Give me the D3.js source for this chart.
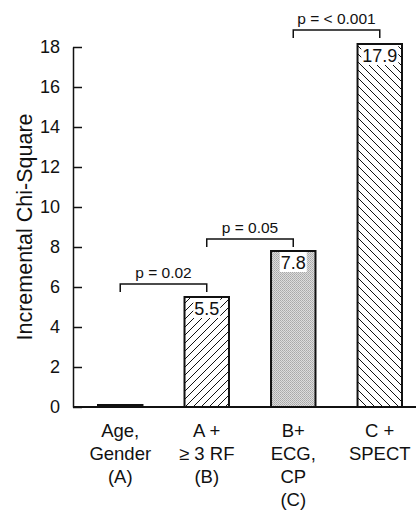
<!DOCTYPE html>
<html>
<head>
<meta charset="utf-8">
<script src="https://cdn.jsdelivr.net/npm/d3@7"></script>
<style>
body { margin: 0; background: #fff; }
text { font-family: "Liberation Sans", Arial, Helvetica, sans-serif; fill: #111; }
</style>
</head>
<body>
<div id="chart"></div>
<script>
// Bars, left to right
var categories = ["A", "B", "C", "D"];
var catLines = [
    ["Age,", "Gender", "(A)"],
    ["A +", "\u2265 3 RF", "(B)"],
    ["B+", "ECG,", "CP", "(C)"],
    ["C +", "SPECT"]
];
var valueLabels = ["", "5.5", "7.8", "17.9"];
var barHeights = [0.1, 5.5, 7.8, 18.15];   // as drawn in the figure
var fills = ["solid", "hatchUp", "stipple", "hatchDown"];

var yTicks = [0, 2, 4, 6, 8, 10, 12, 14, 16, 18];

// p-value brackets: from bar, to bar, level (chi-square units)
var pFrom = ["A", "B", "C"];
var pTo = ["B", "C", "D"];
var pLevel = [6.15, 8.4, 18.85];
var pText = ["p = 0.02", "p = 0.05", "p = < 0.001"];

var width = 416, height = 511;

var svg = d3.select("#chart").append("svg").
    attr("width", width).
    attr("height", height);

var defs = svg.append("defs");
var up = defs.append("pattern").
    attr("id", "hatchUp").
    attr("patternUnits", "userSpaceOnUse").
    attr("width", 8).attr("height", 8);
up.append("path").
    attr("d", "M-2,2 l4,-4 M0,8 l8,-8 M6,10 l4,-4").
    attr("stroke", "#111").attr("stroke-width", 1);
var down = defs.append("pattern").
    attr("id", "hatchDown").
    attr("patternUnits", "userSpaceOnUse").
    attr("width", 8).attr("height", 8);
down.append("path").
    attr("d", "M-2,6 l4,4 M0,0 l8,8 M6,-2 l4,4").
    attr("stroke", "#111").attr("stroke-width", 1);
var stip = defs.append("pattern").
    attr("id", "stipple").
    attr("patternUnits", "userSpaceOnUse").
    attr("width", 2).attr("height", 2);
stip.append("rect").attr("width", 2).attr("height", 2).attr("fill", "#dcdcdc");
stip.append("rect").attr("width", 1).attr("height", 1).attr("fill", "#a8a8a8");
stip.append("rect").attr("x", 1).attr("y", 1).attr("width", 1).attr("height", 1).attr("fill", "#b4b4b4");

var x = d3.scaleBand().
    domain(categories).
    range([73, 427]).
    paddingInner(0.486).
    paddingOuter(0.289);
var y = d3.scaleLinear().
    domain([0, 18]).
    range([407, 47]);

// y axis, ticks point inward
var yAxis = svg.append("g").
    attr("transform", "translate(73,0)").
    call(d3.axisLeft(y).tickValues(yTicks).tickSizeInner(-9).tickSizeOuter(0).tickPadding(13));
yAxis.select(".domain").attr("stroke", "#111").attr("stroke-width", 1.5);
yAxis.selectAll(".tick line").attr("stroke", "#111").attr("stroke-width", 1.5);
yAxis.selectAll(".tick text").
    attr("font-family", "Liberation Sans, Arial, sans-serif").
    attr("font-size", 18).
    attr("fill", "#111");

svg.append("text").
    attr("transform", "translate(32," + y(9.0) + ") rotate(-90)").
    attr("text-anchor", "middle").
    attr("font-size", 21.5).
    text("Incremental Chi-Square");

// bars
var bars = svg.append("g").selectAll("g").
    data(categories).
    enter().append("g");
bars.append("rect").
    attr("x", function(d) { return x(d); }).
    attr("width", x.bandwidth()).
    attr("y", function(d, i) { return y(barHeights[i]); }).
    attr("height", function(d, i) { return y(0) - y(barHeights[i]); }).
    attr("fill", function(d, i) {
        return fills[i] == "solid" ? "#111" : "url(#" + fills[i] + ")";
    }).
    attr("stroke", "#111").
    attr("stroke-width", 2);

// value labels in white boxes at bar tops
bars.each(function(d, i) {
    if (!valueLabels[i]) return;
    var g = d3.select(this);
    var cx = x(d) + x.bandwidth() / 2;
    var box = g.append("rect").attr("fill", "#fff");
    var t = g.append("text").
        attr("x", cx).
        attr("y", y(barHeights[i]) + 18).
        attr("text-anchor", "middle").
        attr("font-size", 18).
        text(valueLabels[i]);
    var bb = t.node().getBBox();
    box.attr("x", bb.x - 1).
        attr("y", y(barHeights[i]) + 1).
        attr("width", bb.width + 2).
        attr("height", 20);
});

// baseline
svg.append("line").
    attr("x1", 73).attr("x2", width).
    attr("y1", y(0)).attr("y2", y(0)).
    attr("stroke", "#111").attr("stroke-width", 2);

// category labels
var lab = svg.append("g").selectAll("text").
    data(categories).
    enter().append("text").
    attr("text-anchor", "middle").
    attr("font-size", 18.5);
lab.each(function(d, i) {
    var t = d3.select(this);
    catLines[i].forEach(function(line, k) {
        t.append("tspan").
            attr("x", x(d) + x.bandwidth() / 2).
            attr("y", 437 + k * 23).
            text(line);
    });
});

// brackets
pText.forEach(function(txt, i) {
    var x1 = x(pFrom[i]) + x.bandwidth() / 2;
    var x2 = x(pTo[i]) + x.bandwidth() / 2;
    var yy = y(pLevel[i]);
    svg.append("path").
        attr("d", "M" + x1 + "," + (yy + 8) + "V" + yy + "H" + x2 + "V" + (yy + 8)).
        attr("fill", "none").
        attr("stroke", "#111").
        attr("stroke-width", 1.5);
    svg.append("text").
        attr("x", (x1 + x2) / 2).
        attr("y", yy - 6).
        attr("text-anchor", "middle").
        attr("font-size", 15.5).
        text(txt);
});
</script>
</body>
</html>
